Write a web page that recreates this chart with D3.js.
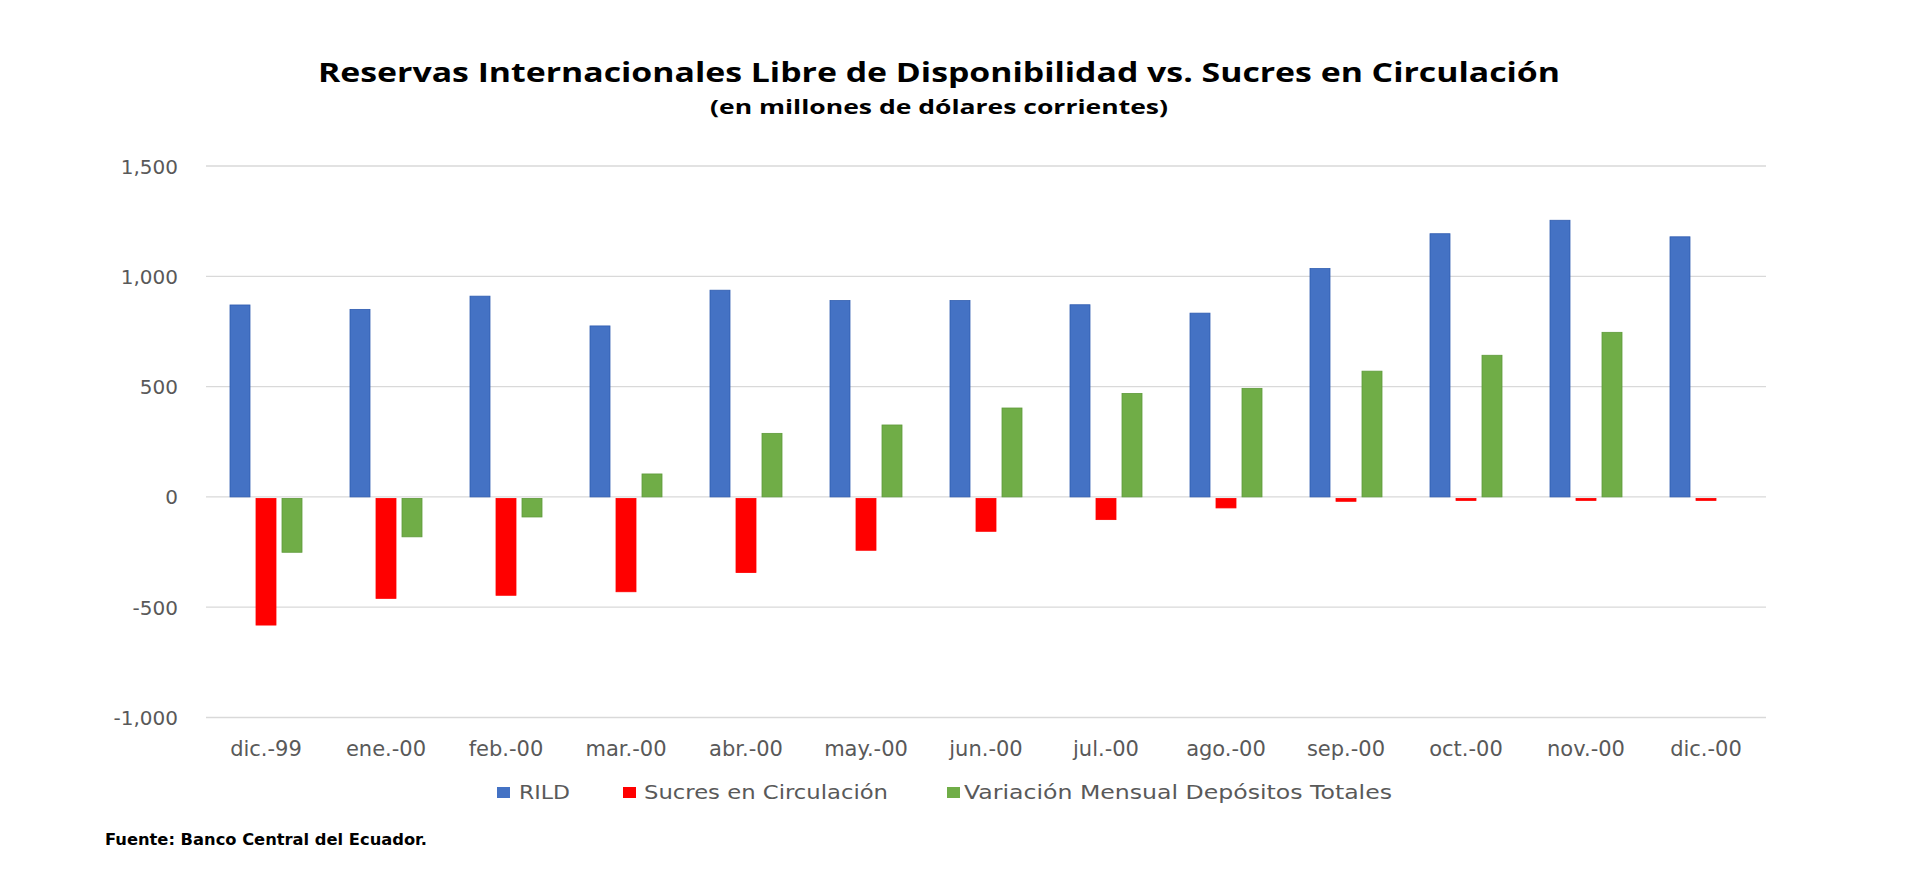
<!DOCTYPE html>
<html>
<head>
<meta charset="utf-8">
<script src="https://cdn.jsdelivr.net/npm/d3@7"></script>
<style>
  html, body { margin: 0; padding: 0; background: #ffffff; }
  svg { display: block; }
</style>
</head>
<body>
<svg id="chart" width="1920" height="892"></svg>
<script>
// ---- Data ----
const categories = ["dic.-99","ene.-00","feb.-00","mar.-00","abr.-00","may.-00","jun.-00","jul.-00","ago.-00","sep.-00","oct.-00","nov.-00","dic.-00"];
const seriesNames = ["RILD","Sucres en Circulación","Variación Mensual Depósitos Totales"];
const rild   = [870, 850, 910, 775, 937, 890, 890, 871, 833, 1035, 1193, 1254, 1179];
const sucres = [-581, -460, -446, -430, -343, -242, -156, -103, -50, -20, -16, -14, -14];
const variacion = [-251, -181, -91, 104, 288, 326, 403, 469, 492, 570, 642, 746, null];
const yTicks = [-1000, -500, 0, 500, 1000, 1500];
const colors = ["#4472C4", "#FF0000", "#70AD47"];
const strokes = ["#2F5CB0", "#FF0000", "#5E9A3A"];

const titleText = "Reservas Internacionales Libre de Disponibilidad vs. Sucres en Circulación";
const subtitleText = "(en millones de dólares corrientes)";
const sourceText = "Fuente: Banco Central del Ecuador.";

const values = [rild, sucres, variacion];

// ---- Layout ----
const svg = d3.select("#chart");
const plotLeft = 206, plotRight = 1766;

const x0 = d3.scaleBand().domain(categories).range([plotLeft, plotRight]).padding(0);
const x1 = d3.scaleBand().domain(seriesNames).range([24, 96]).paddingInner(0.231).paddingOuter(0);
const y = d3.scaleLinear().domain([-1000, 1500]).range([717.5, 166]);

// Gridlines
svg.append("g").selectAll("line").data(yTicks).join("line")
  .attr("x1", plotLeft).attr("x2", plotRight)
  .attr("y1", d => y(d)).attr("y2", d => y(d))
  .attr("stroke", "#D9D9D9").attr("stroke-width", 1.3);

// Y axis (labels only)
const fmt = d3.format(",");
const yAxis = d3.axisLeft(y).tickValues(yTicks).tickSize(0).tickPadding(0)
  .tickFormat(d => fmt(d).replace("\u2212", "-"));
const gy = svg.append("g").attr("transform", `translate(178,0)`).call(yAxis);
gy.select(".domain").remove();
gy.selectAll("text").attr("font-family", "'DejaVu Sans', Verdana, sans-serif")
  .attr("font-size", 20).attr("fill", "#595959").attr("dy", "0.35em");

// Bars
const bars = [];
categories.forEach((c, i) => {
  seriesNames.forEach((s, j) => {
    const v = values[j][i];
    if (v !== null && v !== undefined) bars.push({c, s, j, v});
  });
});
svg.append("g").selectAll("rect").data(bars).join("rect")
  .attr("x", d => x0(d.c) + x1(d.s))
  .attr("width", x1.bandwidth())
  .attr("y", d => d.v >= 0 ? y(d.v) : y(0) + 1.5)
  .attr("height", d => Math.max(2, Math.abs(y(d.v) - y(0)) - (d.v >= 0 ? 0 : 1.5)))
  .attr("fill", d => colors[d.j])
  .attr("stroke", d => strokes[d.j]).attr("stroke-width", 0.8);

// X axis labels
const xAxis = d3.axisBottom(x0).tickSize(0).tickPadding(0);
const gx = svg.append("g").attr("transform", `translate(0,741)`).call(xAxis);
gx.select(".domain").remove();
gx.selectAll("text").attr("font-family", "'DejaVu Sans', Verdana, sans-serif")
  .attr("font-size", 21).attr("fill", "#595959").attr("dy", "0.71em");

// Title
svg.append("text").attr("x", 939).attr("y", 82)
  .attr("text-anchor", "middle")
  .attr("font-family", "'Open Sans', 'DejaVu Sans', sans-serif")
  .attr("font-weight", "bold").attr("font-size", 26).attr("fill", "#000")
  .attr("textLength", 1242).attr("lengthAdjust", "spacingAndGlyphs")
  .text(titleText);
svg.append("text").attr("x", 939).attr("y", 114)
  .attr("text-anchor", "middle")
  .attr("font-family", "'Open Sans', 'DejaVu Sans', sans-serif")
  .attr("font-weight", "bold").attr("font-size", 20).attr("fill", "#000")
  .attr("textLength", 458).attr("lengthAdjust", "spacingAndGlyphs")
  .text(subtitleText);

// Legend
const legendItems = [
  {name: seriesNames[0], sq: 497, tx: 519, tl: 51},
  {name: seriesNames[1], sq: 623, tx: 644, tl: 244},
  {name: seriesNames[2], sq: 947, tx: 964, tl: 428}
];
const lg = svg.append("g");
lg.selectAll("rect").data(legendItems).join("rect")
  .attr("x", d => d.sq).attr("y", 787).attr("width", 13).attr("height", 11)
  .attr("fill", (d, i) => colors[i]);
lg.selectAll("text").data(legendItems).join("text")
  .attr("x", d => d.tx).attr("y", 799)
  .attr("font-family", "'DejaVu Sans', Verdana, sans-serif")
  .attr("font-size", 20).attr("fill", "#595959")
  .attr("textLength", d => d.tl).attr("lengthAdjust", "spacingAndGlyphs")
  .text(d => d.name);

// Source
svg.append("text").attr("x", 105).attr("y", 845)
  .attr("font-family", "'DejaVu Sans', Verdana, sans-serif")
  .attr("font-weight", "bold").attr("font-size", 15).attr("fill", "#000")
  .attr("textLength", 322).attr("lengthAdjust", "spacingAndGlyphs")
  .text(sourceText);
</script>
</body>
</html>
